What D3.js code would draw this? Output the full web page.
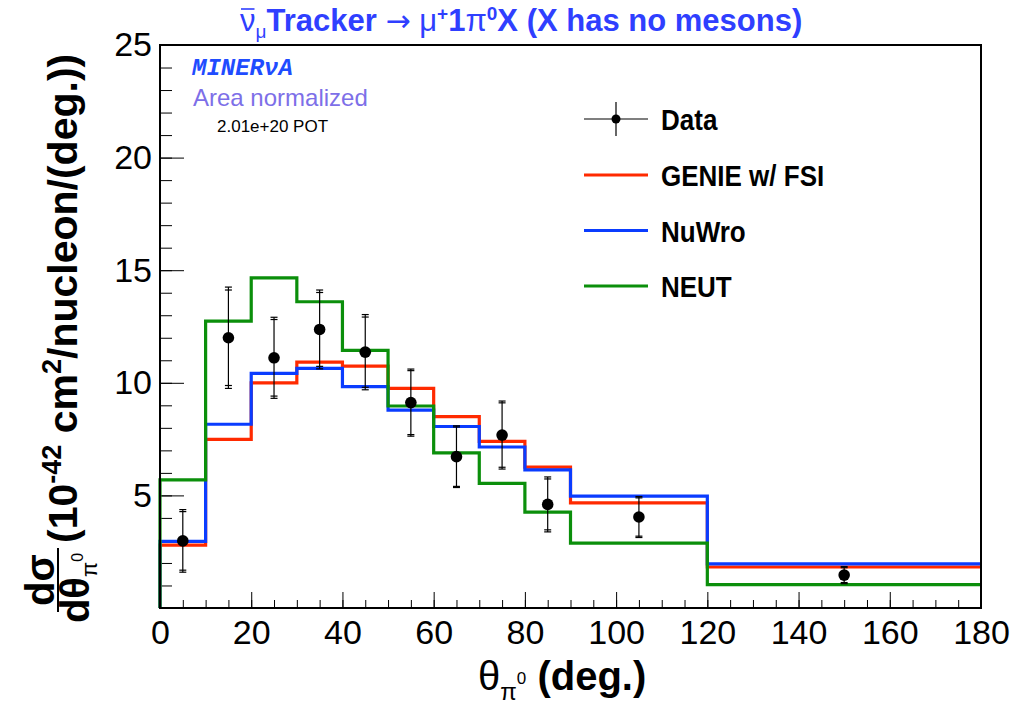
<!DOCTYPE html>
<html>
<head>
<meta charset="utf-8">
<script src="https://cdn.jsdelivr.net/npm/d3@7"></script>
<style>
  html, body { margin: 0; padding: 0; background: #fff; }
  svg { display: block; font-family: "Liberation Sans", Arial, sans-serif; }
</style>
</head>
<body>
<div id="chart"></div>
<script>
// bin edges in degrees
const binEdges = [0, 10, 20, 30, 40, 50, 60, 70, 80, 90, 120, 180];

const dataValues = [2.98, 12.0, 11.11, 12.37, 11.36, 9.12, 6.72, 7.68, 4.6, 4.04, 1.46];
const dataTotalErr = [1.39, 2.25, 1.8, 1.75, 1.67, 1.49, 1.37, 1.51, 1.22, 0.91, 0.38];
const dataStatErr = [1.3, 2.12, 1.7, 1.64, 1.56, 1.42, 1.32, 1.43, 1.13, 0.85, 0.33];

const genieValues = [2.79, 7.49, 10.0, 10.92, 10.74, 9.75, 8.5, 7.4, 6.26, 4.67, 1.82];
const nuwroValues = [2.96, 8.16, 10.42, 10.64, 9.83, 8.79, 8.06, 7.15, 6.13, 4.97, 1.96];
const neutValues = [5.69, 12.74, 14.66, 13.6, 11.44, 8.97, 6.89, 5.53, 4.26, 2.88, 1.04];

const xTicks = [0, 20, 40, 60, 80, 100, 120, 140, 160, 180];
const xMinorTicks = d3.range(0, 181, 5);
const yTicks = [5, 10, 15, 20, 25];
const yTickLabels = ["5", "10", "15", "20", "25"];
const yMinorTicks = d3.range(0, 26, 1);

const models = [
  { label: "GENIE w/ FSI", values: genieValues, color: "#ff2a00" },
  { label: "NuWro", values: nuwroValues, color: "#0a3cff" },
  { label: "NEUT", values: neutValues, color: "#0b8f0b" },
];

const width = 1030;
const height = 704;
const plot = { left: 160, right: 981, top: 45, bottom: 608 };

const svg = d3.select("#chart")
  .append("svg")
  .attr("width", width)
  .attr("height", height);

const x = d3.scaleLinear().domain([0, 180]).range([plot.left, plot.right]);
const y = d3.scaleLinear().domain([0, 25]).range([plot.bottom, plot.top]);

// minor ticks
svg.append("g")
  .attr("transform", `translate(${plot.left},0)`)
  .call(d3.axisLeft(y).tickValues(yMinorTicks).tickSize(-12).tickFormat(""))
  .call((g) => g.select(".domain").remove())
  .call((g) => g.selectAll(".tick line").attr("stroke", "#000").attr("stroke-width", 1));

svg.append("g")
  .attr("transform", `translate(0,${plot.bottom})`)
  .call(d3.axisBottom(x).tickValues(xMinorTicks).tickSize(-8).tickFormat(""))
  .call((g) => g.select(".domain").remove())
  .call((g) => g.selectAll(".tick line").attr("stroke", "#000").attr("stroke-width", 1));

// major ticks + labels
svg.append("g")
  .attr("transform", `translate(${plot.left},0)`)
  .call(d3.axisLeft(y).tickValues(yTicks).tickSize(-24).tickPadding(8)
    .tickFormat((d, i) => yTickLabels[i]))
  .call((g) => g.select(".domain").remove())
  .call((g) => g.selectAll(".tick line").attr("stroke", "#000").attr("stroke-width", 1))
  .call((g) => g.selectAll(".tick text").attr("fill", "#000").attr("font-size", 34)
    .attr("font-family", "Liberation Sans, Arial, sans-serif"));

svg.append("g")
  .attr("transform", `translate(0,${plot.bottom})`)
  .call(d3.axisBottom(x).tickValues(xTicks).tickSize(-16).tickPadding(12))
  .call((g) => g.select(".domain").remove())
  .call((g) => g.selectAll(".tick line").attr("stroke", "#000").attr("stroke-width", 1))
  .call((g) => g.selectAll(".tick text").attr("fill", "#000").attr("font-size", 34)
    .attr("font-family", "Liberation Sans, Arial, sans-serif"));

// model histograms
const stepLine = (values) => {
  const pts = [[binEdges[0], 0]];
  values.forEach((v, i) => {
    pts.push([binEdges[i], v]);
    pts.push([binEdges[i + 1], v]);
  });
  return d3.line().x((d) => x(d[0])).y((d) => y(d[1]))(pts);
};

models.forEach((m) => {
  svg.append("path")
    .attr("d", stepLine(m.values))
    .attr("fill", "none")
    .attr("stroke", m.color)
    .attr("stroke-width", 3.2)
    .attr("stroke-linejoin", "miter");
});

// data points with error bars
const points = dataValues.map((v, i) => ({
  xc: (binEdges[i] + binEdges[i + 1]) / 2,
  v,
  tot: dataTotalErr[i],
  stat: dataStatErr[i],
}));

const pg = svg.append("g").selectAll("g").data(points).join("g");

pg.append("line")
  .attr("x1", (d) => x(d.xc)).attr("x2", (d) => x(d.xc))
  .attr("y1", (d) => y(d.v + d.tot)).attr("y2", (d) => y(d.v - d.tot))
  .attr("stroke", "#000").attr("stroke-width", 1.2);

[["tot", 1], ["tot", -1], ["stat", 1], ["stat", -1]].forEach(([k, s]) => {
  pg.append("line")
    .attr("x1", (d) => x(d.xc) - 3.5).attr("x2", (d) => x(d.xc) + 3.5)
    .attr("y1", (d) => y(d.v + s * d[k])).attr("y2", (d) => y(d.v + s * d[k]))
    .attr("stroke", "#000").attr("stroke-width", 1.2);
});

pg.append("circle")
  .attr("cx", (d) => x(d.xc)).attr("cy", (d) => y(d.v))
  .attr("r", 5.8).attr("fill", "#000");

// frame
svg.append("rect")
  .attr("x", plot.left).attr("y", plot.top)
  .attr("width", plot.right - plot.left).attr("height", plot.bottom - plot.top)
  .attr("fill", "none").attr("stroke", "#000").attr("stroke-width", 2);

// legend
const legend = svg.append("g").attr("transform", "translate(584,0)");
const legendRows = [{ label: "Data", y: 119, data: true }]
  .concat(models.map((m, i) => ({ label: m.label, y: 175 + i * 55.5, color: m.color })));

legendRows.forEach((r) => {
  if (r.data) {
    legend.append("line").attr("x1", 0).attr("x2", 64).attr("y1", r.y).attr("y2", r.y)
      .attr("stroke", "#000").attr("stroke-width", 1.2);
    legend.append("line").attr("x1", 32).attr("x2", 32).attr("y1", r.y - 17).attr("y2", r.y + 17)
      .attr("stroke", "#000").attr("stroke-width", 1.2);
    legend.append("circle").attr("cx", 32).attr("cy", r.y).attr("r", 4.5).attr("fill", "#000");
  } else {
    legend.append("line").attr("x1", 0).attr("x2", 64).attr("y1", r.y).attr("y2", r.y)
      .attr("stroke", r.color).attr("stroke-width", 3.2);
  }
  legend.append("text")
    .attr("x", 77).attr("y", r.y + 10)
    .attr("font-size", 26).attr("font-weight", "bold").attr("fill", "#000")
    .attr("transform", `translate(0,${r.y}) scale(1,1.12) translate(0,${-r.y})`)
    .text(r.label);
});

// labels in upper-left
svg.append("text")
  .attr("x", 192).attr("y", 75)
  .attr("font-family", "Liberation Mono, DejaVu Sans Mono, monospace")
  .attr("font-style", "italic").attr("font-weight", "bold")
  .attr("font-size", 24).attr("fill", "#1f4cff")
  .text("MINERνA");

svg.append("text")
  .attr("x", 193).attr("y", 106)
  .attr("font-size", 24).attr("fill", "#7d6fe8")
  .text("Area normalized");

svg.append("text")
  .attr("x", 217).attr("y", 132)
  .attr("font-size", 17).attr("fill", "#000")
  .text("2.01e+20 POT");

// title
const title = svg.append("text")
  .attr("x", 240).attr("y", 31)
  .attr("font-size", 31).attr("font-weight", "bold").attr("fill", "#2f3fff");
title.append("tspan").attr("font-weight", "normal").text("ν");
title.append("tspan").attr("font-weight", "normal").attr("font-size", 19).attr("dy", 7).text("μ");
title.append("tspan").attr("dy", -7).text("Tracker ");
title.append("tspan").attr("font-weight", "normal")
  .attr("font-family", "DejaVu Sans, sans-serif").attr("font-size", 30).text("→");
title.append("tspan").attr("font-weight", "normal").text(" μ");
title.append("tspan").attr("font-size", 19).attr("dy", -11).text("+");
title.append("tspan").attr("dy", 11).text("1");
title.append("tspan").attr("font-weight", "normal").text("π");
title.append("tspan").attr("font-size", 19).attr("dy", -11).text("0");
title.append("tspan").attr("dy", 11).text("X (X has no mesons)");

const nu = title.node().getExtentOfChar(0);
svg.append("line")
  .attr("x1", nu.x + 1).attr("x2", nu.x + nu.width - 1)
  .attr("y1", nu.y + 6).attr("y2", nu.y + 6)
  .attr("stroke", "#2f3fff").attr("stroke-width", 1.6);

// y axis title (rotated)
const yt = svg.append("g").attr("transform", "rotate(-90)");
yt.append("text")
  .attr("x", -580).attr("y", 54)
  .attr("text-anchor", "middle").attr("font-size", 40).attr("font-weight", "bold")
  .text("dσ");
yt.append("line")
  .attr("x1", -612).attr("x2", -548).attr("y1", 58).attr("y2", 58)
  .attr("stroke", "#000").attr("stroke-width", 2);
const den = yt.append("text")
  .attr("x", -588).attr("y", 89)
  .attr("text-anchor", "middle").attr("font-size", 40).attr("font-weight", "bold");
den.append("tspan").text("dθ");
den.append("tspan").attr("font-size", 22).attr("font-weight", "normal").attr("dy", 8).text("π");
den.append("tspan").attr("font-size", 16).attr("font-weight", "normal").attr("dy", -14).text("0");

const yl = yt.append("text")
  .attr("x", -543).attr("y", 77)
  .attr("font-size", 41).attr("font-weight", "bold");
yl.append("tspan").text("(10");
yl.append("tspan").attr("font-size", 27).attr("dy", -16).text("-42");
yl.append("tspan").attr("dy", 16).text(" cm");
yl.append("tspan").attr("font-size", 27).attr("dy", -16).text("2");
yl.append("tspan").attr("dy", 16).text("/nucleon/(deg.))");

// x axis title
const xl = svg.append("text")
  .attr("x", 478).attr("y", 690)
  .attr("font-size", 40).attr("fill", "#000");
xl.append("tspan").text("θ");
xl.append("tspan").attr("font-size", 24).attr("dy", 10).text("π");
xl.append("tspan").attr("font-size", 17).attr("dy", -16).text("0");
xl.append("tspan").attr("dy", 6).attr("font-weight", "bold").text(" (deg.)");
</script>
</body>
</html>
